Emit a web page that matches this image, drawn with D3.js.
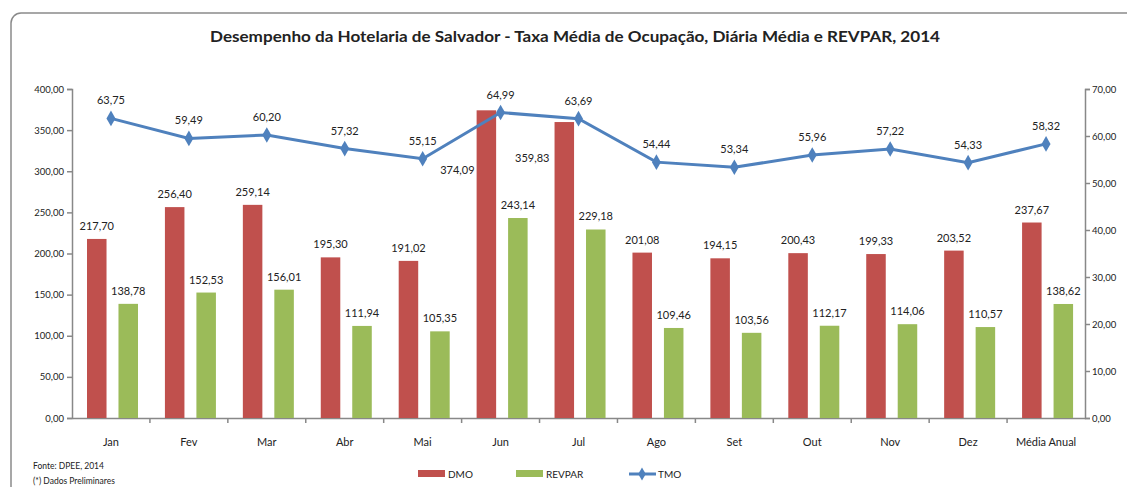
<!DOCTYPE html>
<html>
<head>
<meta charset="utf-8">
<script src="https://cdn.jsdelivr.net/npm/d3@7"></script>
<style>
  body { margin: 0; background: #fff; }
  text { font-family: Lato, "Open Sans", sans-serif; fill: #222; }
</style>
</head>
<body>
<svg id="grafico" width="1127" height="487"></svg>
<script>
// dados
const meses = ["Jan","Fev","Mar","Abr","Mai","Jun","Jul","Ago","Set","Out","Nov","Dez","Média Anual"];
const dmo = [217.70,256.40,259.14,195.30,191.02,374.09,359.83,201.08,194.15,200.43,199.33,203.52,237.67];
const revpar = [138.78,152.53,156.01,111.94,105.35,243.14,229.18,109.46,103.56,112.17,114.06,110.57,138.62];
const tmo = [63.75,59.49,60.20,57.32,55.15,64.99,63.69,54.44,53.34,55.96,57.22,54.33,58.32];
const ticksEsq = [0,50,100,150,200,250,300,350,400];
const ticksDir = [0,10,20,30,40,50,60,70];
const series = ["DMO","REVPAR"];
const cores = {DMO:"#C0504D", REVPAR:"#9BBB59", TMO:"#4F81BD"};

const svg = d3.select("#grafico");
const br = d3.formatLocale({decimal:",", thousands:".", grouping:[3], currency:["R$",""]});
const fmt = br.format(".2f");

// moldura
svg.append("rect").attr("x",11).attr("y",13).attr("width",1140).attr("height",500)
  .attr("rx",10).attr("fill","none").attr("stroke","#8a8a8a").attr("stroke-width",1.5);

svg.append("text").attr("x",575).attr("y",42).attr("text-anchor","middle")
  .attr("font-size",15).attr("font-weight","bold").attr("textLength",730).attr("lengthAdjust","spacingAndGlyphs")
  .text("Desempenho da Hotelaria de Salvador - Taxa Média de Ocupação, Diária Média e REVPAR, 2014");

const x = d3.scaleBand().domain(meses).range([72,1085]);
const x1 = d3.scaleBand().domain(series).range([15,66]).paddingInner(0.38);
const yE = d3.scaleLinear().domain([0,400]).range([418,89]);
const yD = d3.scaleLinear().domain([0,70]).range([418,89]);

// eixos
const eixoE = svg.append("g").attr("transform","translate(72,0)")
  .call(d3.axisLeft(yE).tickValues(ticksEsq).tickFormat(fmt).tickSize(5).tickPadding(3));
const eixoD = svg.append("g").attr("transform","translate(1085,0)")
  .call(d3.axisRight(yD).tickValues(ticksDir).tickFormat(fmt).tickSize(5).tickPadding(2));
const eixoX = svg.append("g").attr("transform","translate(0,418)")
  .call(d3.axisBottom(x).tickSize(0).tickPadding(20));
[eixoE, eixoD, eixoX].forEach(g => {
  g.select(".domain").attr("stroke","#888").attr("stroke-width",1.5);
  g.selectAll(".tick line").attr("stroke","#888").attr("stroke-width",1.5);
  g.selectAll(".tick text").attr("font-family","Lato, 'Open Sans', sans-serif").attr("fill","#222");
});
eixoE.selectAll(".tick text").attr("font-size",9.5);
eixoD.selectAll(".tick text").attr("font-size",9.5);
eixoX.selectAll(".tick text").attr("font-size",11);
// marcas entre categorias
svg.append("g").selectAll("line").data(meses.slice(1)).join("line")
  .attr("x1",d => x(d)).attr("x2",d => x(d)).attr("y1",418).attr("y2",423)
  .attr("stroke","#888").attr("stroke-width",1.5);

// barras
const linhas = meses.map((m,i) => ({mes:m, DMO:dmo[i], REVPAR:revpar[i], TMO:tmo[i]}));
const grupos = svg.append("g").selectAll("g").data(linhas).join("g")
  .attr("transform",d => `translate(${x(d.mes)},0)`);
grupos.selectAll("rect").data(d => series.map(s => ({s, v:d[s]}))).join("rect")
  .attr("x",d => x1(d.s)).attr("width",x1.bandwidth())
  .attr("y",d => yE(d.v)).attr("height",d => 418 - yE(d.v))
  .attr("fill",d => cores[d.s]);

// rótulos das barras (Jun e Jul DMO deslocados para a esquerda, como no original)
const desloc = {Jun:[-29,64], Jul:[-32,40]};
grupos.selectAll("text").data(d => series.map(s => ({s, v:d[s], mes:d.mes}))).join("text")
  .attr("font-size",11).attr("text-anchor","middle")
  .attr("x",d => {
    const cx = x1(d.s) + x1.bandwidth()/2;
    return (d.s === "DMO" && desloc[d.mes]) ? cx + desloc[d.mes][0] : cx;
  })
  .attr("y",d => (d.s === "DMO" && desloc[d.mes]) ? yE(d.v) + desloc[d.mes][1] : yE(d.v) - 9)
  .text(d => fmt(d.v));

// linha TMO
const cx = m => x(m) + x.bandwidth()/2;
svg.append("path").datum(linhas)
  .attr("d", d3.line().x(d => cx(d.mes)).y(d => yD(d.TMO)))
  .attr("fill","none").attr("stroke",cores.TMO).attr("stroke-width",3);
svg.append("g").selectAll("path").data(linhas).join("path")
  .attr("d", d3.symbol().type(d3.symbolDiamond).size(70))
  .attr("transform",d => `translate(${cx(d.mes)},${yD(d.TMO)})`)
  .attr("fill",cores.TMO);
svg.append("g").selectAll("text").data(linhas).join("text")
  .attr("x",d => cx(d.mes)).attr("y",d => yD(d.TMO) - 14)
  .attr("font-size",11).attr("text-anchor","middle").text(d => fmt(d.TMO));

// legenda
const leg = svg.append("g");
leg.append("rect").attr("x",418).attr("y",470).attr("width",27).attr("height",7).attr("fill",cores.DMO);
leg.append("text").attr("x",448).attr("y",478).attr("font-size",10).text("DMO");
leg.append("rect").attr("x",516).attr("y",470).attr("width",27).attr("height",7).attr("fill",cores.REVPAR);
leg.append("text").attr("x",546).attr("y",478).attr("font-size",10).text("REVPAR");
leg.append("line").attr("x1",629).attr("x2",656).attr("y1",474).attr("y2",474).attr("stroke",cores.TMO).attr("stroke-width",3);
leg.append("path").attr("d",d3.symbol().type(d3.symbolDiamond).size(50)).attr("transform","translate(642,474)").attr("fill",cores.TMO);
leg.append("text").attr("x",658).attr("y",478).attr("font-size",10).text("TMO");

// fonte
svg.append("text").attr("x",33).attr("y",469).attr("font-size",8.5).text("Fonte: DPEE, 2014");
svg.append("text").attr("x",33).attr("y",484).attr("font-size",8.5).text("(*) Dados Preliminares");
</script>
</body>
</html>
